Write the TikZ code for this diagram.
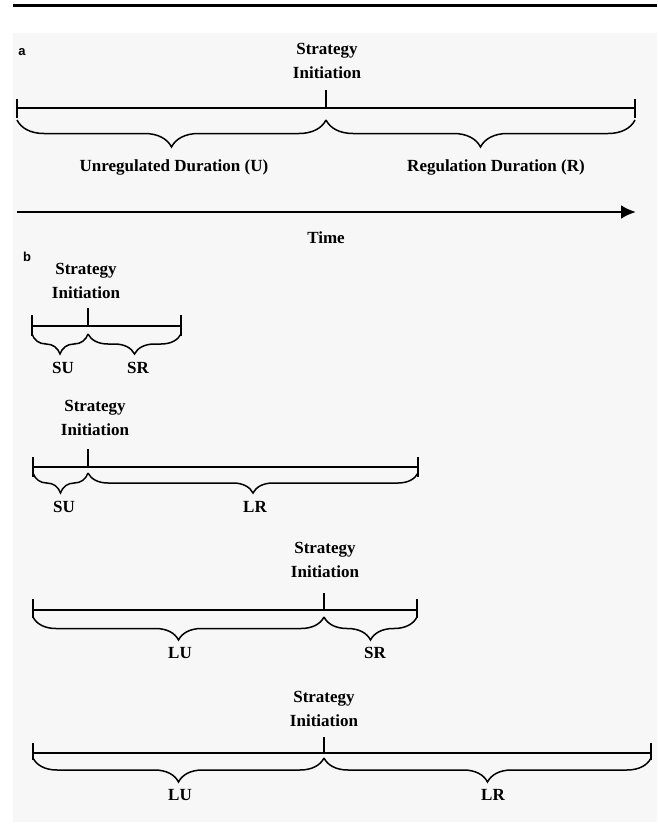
\documentclass[tikz,border=0pt]{standalone}
\usepackage{fontspec}
\setmainfont{Liberation Serif}
\newfontfamily\tagfont{Liberation Sans}
\usetikzlibrary{decorations.pathreplacing, arrows.meta}
\definecolor{panelgray}{HTML}{F7F7F7}

\tikzset{
    timeline/.style = {line width = 2.8pt},
    endtick/.style = {line width = 2.4pt},
    midtick/.style = {line width = 2.2pt},
    bracket/.style = {line width = 1.5pt, decorate},
    lbl/.style = {font = \bfseries\fontsize{17}{24}\selectfont, inner sep = 0pt, align = center},
    tag/.style = {font = \tagfont\bfseries\fontsize{13}{15}\selectfont, inner sep = 0pt}
}

\begin{document}
\begin{tikzpicture}[x = 1pt, y = -1pt]
        \useasboundingbox (0, 0) rectangle (657, 827);
        % Background panel and top rule
        \fill [panelgray] (13, 33) rectangle (657, 822);
        \draw [line width = 3pt] (13, 5) -- (657, 5);

        % ---- panel a ----
        \node [tag] (taga) at (22, 52) {a};
        \node [lbl] (sa) at (327, 61) {Strategy\\Initiation};
        \coordinate (a0) at (17, 108);
        \coordinate (am) at (326, 108);
        \coordinate (a1) at (635, 108);
        \draw [timeline] (a0) -- (a1);
        \draw [endtick] ([yshift = 9pt] a0) -- ([yshift = -10pt] a0);
        \draw [endtick] ([yshift = 9pt] a1) -- ([yshift = -10pt] a1);
        \draw [midtick] (am) -- ([yshift = 18pt] am);
        \draw [bracket, decoration = {brace, mirror, amplitude = 27pt}] ([yshift = -12pt] a0) -- ([yshift = -12pt] am);
        \draw [bracket, decoration = {brace, mirror, amplitude = 27pt}] ([yshift = -12pt] am) -- ([yshift = -12pt] a1);
        \node [lbl] (ua) at (174, 167) {Unregulated Duration (U)};
        \node [lbl] (ra) at (496, 167) {Regulation Duration (R)};

        % Time arrow
        \coordinate (t0) at (17, 212);
        \coordinate (t1) at (636, 212);
        \draw [timeline, -{Latex[length = 15pt, width = 14pt]}] (t0) -- (t1);
        \node [lbl] (time) at (326, 238) {Time};

        % ---- panel b ----
        \node [tag] (tagb) at (27, 257) {b};

        % short U, short R
        \node [lbl] (s1) at (86, 281) {Strategy\\Initiation};
        \coordinate (b10) at (32, 326);
        \coordinate (b1m) at (88, 326);
        \coordinate (b11) at (181, 326);
        \draw [timeline] (b10) -- (b11);
        \draw [endtick] ([yshift = 11pt] b10) -- ([yshift = -10pt] b10);
        \draw [endtick] ([yshift = 11pt] b11) -- ([yshift = -10pt] b11);
        \draw [midtick] (b1m) -- ([yshift = 18pt] b1m);
        \draw [bracket, decoration = {brace, mirror, amplitude = 20pt}] ([yshift = -8pt] b10) -- ([yshift = -8pt] b1m);
        \draw [bracket, decoration = {brace, mirror, amplitude = 20pt}] ([yshift = -8pt] b1m) -- ([yshift = -8pt] b11);
        \node [lbl] (su1) at (63, 368) {SU};
        \node [lbl] (sr1) at (138, 368) {SR};

        % short U, long R
        \node [lbl] (s2) at (95, 418) {Strategy\\Initiation};
        \coordinate (b20) at (33, 467);
        \coordinate (b2m) at (88, 467);
        \coordinate (b21) at (418, 467);
        \draw [timeline] (b20) -- (b21);
        \draw [endtick] ([yshift = 10pt] b20) -- ([yshift = -10pt] b20);
        \draw [endtick] ([yshift = 10pt] b21) -- ([yshift = -10pt] b21);
        \draw [midtick] (b2m) -- ([yshift = 18pt] b2m);
        \draw [bracket, decoration = {brace, mirror, amplitude = 20pt}] ([yshift = -6pt] b20) -- ([yshift = -6pt] b2m);
        \draw [bracket, decoration = {brace, mirror, amplitude = 20pt}] ([yshift = -6pt] b2m) -- ([yshift = -6pt] b21);
        \node [lbl] (su2) at (64, 507) {SU};
        \node [lbl] (lr2) at (255, 507) {LR};

        % long U, short R
        \node [lbl] (s3) at (325, 560) {Strategy\\Initiation};
        \coordinate (b30) at (33, 610);
        \coordinate (b3m) at (324, 610);
        \coordinate (b31) at (417, 610);
        \draw [timeline] (b30) -- (b31);
        \draw [endtick] ([yshift = 11pt] b30) -- ([yshift = -8pt] b30);
        \draw [endtick] ([yshift = 11pt] b31) -- ([yshift = -8pt] b31);
        \draw [midtick] (b3m) -- ([yshift = 17pt] b3m);
        \draw [bracket, decoration = {brace, mirror, amplitude = 23pt}] ([yshift = -7pt] b30) -- ([yshift = -7pt] b3m);
        \draw [bracket, decoration = {brace, mirror, amplitude = 23pt}] ([yshift = -7pt] b3m) -- ([yshift = -7pt] b31);
        \node [lbl] (lu3) at (180, 653) {LU};
        \node [lbl] (sr3) at (375, 653) {SR};

        % long U, long R
        \node [lbl] (s4) at (324, 709) {Strategy\\Initiation};
        \coordinate (b40) at (33, 753);
        \coordinate (b4m) at (324, 753);
        \coordinate (b41) at (651, 753);
        \draw [timeline] (b40) -- (b41);
        \draw [endtick] ([yshift = 10pt] b40) -- ([yshift = -7pt] b40);
        \draw [endtick] ([yshift = 10pt] b41) -- ([yshift = -7pt] b41);
        \draw [midtick] (b4m) -- ([yshift = 16pt] b4m);
        \draw [bracket, decoration = {brace, mirror, amplitude = 24pt}] ([yshift = -5pt] b40) -- ([yshift = -5pt] b4m);
        \draw [bracket, decoration = {brace, mirror, amplitude = 24pt}] ([yshift = -5pt] b4m) -- ([yshift = -5pt] b41);
        \node [lbl] (lu4) at (180, 795) {LU};
        \node [lbl] (lr4) at (493, 795) {LR};
\end{tikzpicture}
\end{document}
